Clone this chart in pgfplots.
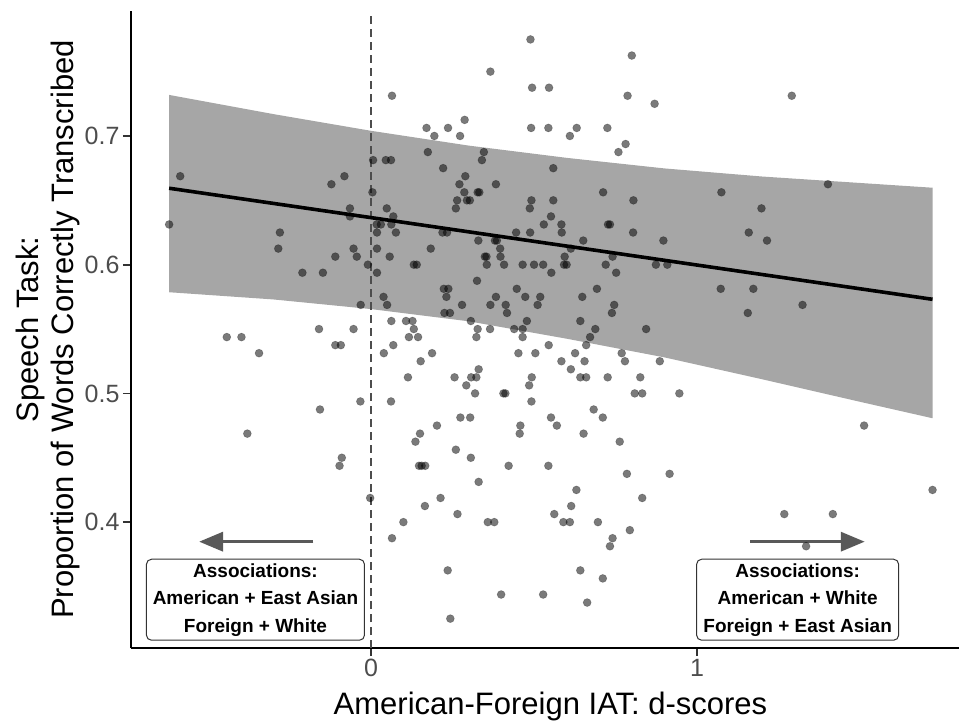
\documentclass[border=0pt]{standalone}
\usepackage{fontspec}
\setmainfont{Liberation Sans}
\usepackage{pgfplots}
\usepackage{pgfplotstable}
\pgfplotsset{compat=1.18}
\usepgfplotslibrary{fillbetween}
\usetikzlibrary{arrows.meta}
\definecolor{tickgray}{HTML}{4D4D4D}
\definecolor{tickline}{HTML}{333333}
\definecolor{bandgray}{HTML}{A6A6A6}
\definecolor{arrowgray}{HTML}{595959}

\pgfplotstableread{
x y
0.064 0.73125
-0.586 0.66875
-0.082 0.66875
-0.122 0.6625
0.006 0.68125
0.045 0.68125
0.061 0.68125
0.004 0.65625
-0.620 0.63125
-0.065 0.64375
-0.065 0.6375
0.048 0.64375
0.068 0.6375
0.017 0.63125
0.030 0.63125
0.062 0.63125
0.018 0.625
0.076 0.625
-0.280 0.625
-0.285 0.6125
-0.054 0.6125
0.018 0.6125
-0.110 0.60625
-0.044 0.60625
0.057 0.60625
-0.010 0.6
-0.211 0.59375
-0.148 0.59375
0.018 0.59375
0.038 0.575
-0.032 0.56875
0.049 0.56875
0.062 0.55625
0.107 0.55625
0.489 0.775
0.800 0.7625
0.366 0.75
0.494 0.7375
0.546 0.7375
0.787 0.73125
0.870 0.725
0.287 0.7125
0.170 0.70625
0.236 0.70625
0.491 0.70625
0.544 0.70625
0.631 0.70625
0.725 0.70625
0.194 0.7
0.273 0.7
0.610 0.7
0.781 0.69375
0.174 0.6875
0.346 0.6875
0.759 0.6875
0.340 0.68125
0.221 0.675
0.559 0.675
0.289 0.66875
0.271 0.6625
0.383 0.6625
0.286 0.65625
0.327 0.65625
0.332 0.65625
0.712 0.65625
0.264 0.65
0.294 0.65
0.303 0.65
0.492 0.65
0.559 0.65
0.805 0.65
0.260 0.64375
0.487 0.64375
0.552 0.6375
0.530 0.63125
0.584 0.63125
0.727 0.63125
0.733 0.63125
0.219 0.625
0.233 0.625
0.445 0.625
0.488 0.625
0.585 0.625
0.804 0.625
0.329 0.61875
0.380 0.61875
0.386 0.61875
0.651 0.61875
0.897 0.61875
0.183 0.6125
0.396 0.6125
0.613 0.6125
0.349 0.60625
0.354 0.60625
0.397 0.60625
0.594 0.60625
0.741 0.60625
0.131 0.6
0.140 0.6
0.355 0.6
0.408 0.6
0.465 0.6
0.500 0.6
0.528 0.6
0.592 0.6
0.600 0.6
0.720 0.6
0.874 0.6
0.909 0.6
0.553 0.59375
0.752 0.59375
0.325 0.5875
0.223 0.58125
0.237 0.58125
0.447 0.58125
0.693 0.58125
0.231 0.575
0.383 0.575
0.473 0.575
0.519 0.575
0.648 0.575
0.279 0.56875
0.366 0.56875
0.413 0.56875
0.511 0.56875
0.746 0.56875
0.225 0.5625
0.242 0.5625
0.417 0.5625
0.739 0.5625
0.127 0.55625
0.306 0.55625
0.478 0.55625
0.642 0.55625
1.291 0.73125
1.402 0.6625
1.075 0.65625
1.198 0.64375
1.159 0.625
1.215 0.61875
1.073 0.58125
1.173 0.58125
1.156 0.5625
1.324 0.56875
-0.443 0.54375
-0.398 0.54375
-0.160 0.55
-0.054 0.55
-0.344 0.53125
-0.110 0.5375
-0.093 0.5375
0.039 0.53125
0.068 0.5375
-0.033 0.49375
0.061 0.49375
-0.157 0.4875
-0.380 0.46875
-0.090 0.45
-0.097 0.44375
-0.003 0.41875
0.099 0.4
0.064 0.3875
0.131 0.55
0.327 0.55
0.365 0.55
0.439 0.55
0.465 0.55
0.688 0.55
0.844 0.55
0.116 0.54375
0.144 0.54375
0.323 0.54375
0.465 0.54375
0.672 0.54375
0.545 0.5375
0.660 0.5375
0.187 0.53125
0.452 0.53125
0.504 0.53125
0.626 0.53125
0.769 0.53125
0.152 0.525
0.584 0.525
0.655 0.525
0.779 0.525
0.886 0.525
0.330 0.51875
0.613 0.51875
0.113 0.5125
0.256 0.5125
0.307 0.5125
0.323 0.5125
0.493 0.5125
0.642 0.5125
0.660 0.5125
0.726 0.5125
0.826 0.5125
0.292 0.50625
0.485 0.50625
0.319 0.5
0.406 0.5
0.412 0.5
0.809 0.5
0.832 0.5
0.946 0.5
0.492 0.49375
0.683 0.4875
0.274 0.48125
0.304 0.48125
0.552 0.48125
0.711 0.48125
0.202 0.475
0.458 0.475
0.570 0.475
0.150 0.46875
0.456 0.46875
0.652 0.46875
0.136 0.4625
0.763 0.4625
0.260 0.45625
0.306 0.45
0.147 0.44375
0.155 0.44375
0.166 0.44375
0.422 0.44375
0.544 0.44375
0.785 0.4375
0.916 0.4375
0.330 0.43125
0.630 0.425
0.213 0.41875
0.832 0.41875
0.165 0.4125
0.614 0.4125
0.265 0.40625
0.562 0.40625
0.358 0.4
0.378 0.4
0.590 0.4
0.610 0.4
0.696 0.4
0.794 0.39375
0.741 0.3875
0.733 0.38125
0.235 0.3625
0.642 0.3625
0.711 0.35625
0.399 0.34375
0.528 0.34375
0.663 0.3375
0.243 0.325
1.513 0.475
1.723 0.425
1.268 0.40625
1.417 0.40625
1.335 0.38125
}\points

\pgfplotstableread{
x y
-0.620 0.7319
-0.300 0.7170
0.000 0.7040
0.300 0.6925
0.600 0.6830
0.900 0.6748
1.200 0.6685
1.500 0.6635
1.723 0.6598
}\bandupper

\pgfplotstableread{
x y
-0.620 0.5786
-0.300 0.5730
0.000 0.5655
0.300 0.5560
0.600 0.5425
0.900 0.5280
1.200 0.5110
1.500 0.4935
1.723 0.4807
}\bandlower

\begin{document}
\begin{tikzpicture}[x=1pt,y=1pt]
\begin{axis}[
  at={(131pt,73pt)}, anchor=south west,
  scale only axis, width=839pt, height=637pt,
  xmin=-0.737, xmax=1.838, ymin=0.3022, ymax=0.7971,
  axis lines=left,
  axis line style={-, line width=2.6pt, black},
  xtick={0,1}, ytick={0.4,0.5,0.6,0.7},
  yticklabel style={/pgf/number format/.cd, fixed, precision=1, fixed zerofill},
  /pgf/number format/assume math mode=true,
  tick label style={font=\fontsize{25}{25}\selectfont, text=tickgray},
  tick style={line width=1.8pt, color=tickline},
  major tick length=8pt, tick align=outside,
  xlabel={American-Foreign IAT: d-scores},
  ylabel={Speech Task:\\Proportion of Words Correctly Transcribed},
  x label style={at={(axis description cs:0.5,0)}, anchor=base, yshift=-66pt,
    font=\fontsize{31}{35}\selectfont},
  y label style={at={(axis description cs:-0.0985,0.5)}, anchor=center,
    align=center, font=\fontsize{31}{35}\selectfont},
  clip=false,
]
\addplot[name path=upper, draw=none, forget plot] table {\bandupper};
\addplot[name path=lower, draw=none, forget plot] table {\bandlower};
\addplot[bandgray, draw=none] fill between[of=upper and lower];
\addplot[tickgray, line width=1.4pt, dash pattern=on 8pt off 5pt] coordinates {(0,0.3022) (0,0.7971)};
\addplot[black, line width=3.6pt] coordinates {(-0.620,0.6594) (1.723,0.5731)};
\addplot[only marks, mark=*, mark size=4pt,
  mark options={fill=black, fill opacity=0.52, draw=black, draw opacity=0.25, line width=0.6pt}]
  table {\points};
\draw[-{Triangle[length=24pt,width=19pt]}, line width=3.5pt, arrowgray]
  (axis cs:-0.177,0.3848) -- (axis cs:-0.528,0.3848);
\draw[-{Triangle[length=24pt,width=19pt]}, line width=3.5pt, arrowgray]
  (axis cs:1.163,0.3848) -- (axis cs:1.515,0.3848);
\node[draw=tickline, fill=white, line width=1pt, rounded corners=5pt, align=center,
  minimum width=218pt, minimum height=81pt, inner sep=2pt,
  font=\fontsize{19}{27.5}\selectfont\bfseries]
  at (axis cs:-0.355,0.3397) {Associations:\\American + East Asian\\Foreign + White};
\node[draw=tickline, fill=white, line width=1pt, rounded corners=5pt, align=center,
  minimum width=202pt, minimum height=81pt, inner sep=2pt,
  font=\fontsize{19}{27.5}\selectfont\bfseries]
  at (axis cs:1.309,0.3397) {Associations:\\American + White\\Foreign + East Asian};
\end{axis}
\pgfresetboundingbox
\useasboundingbox (0,0) rectangle (959,721);
\end{tikzpicture}
\end{document}
